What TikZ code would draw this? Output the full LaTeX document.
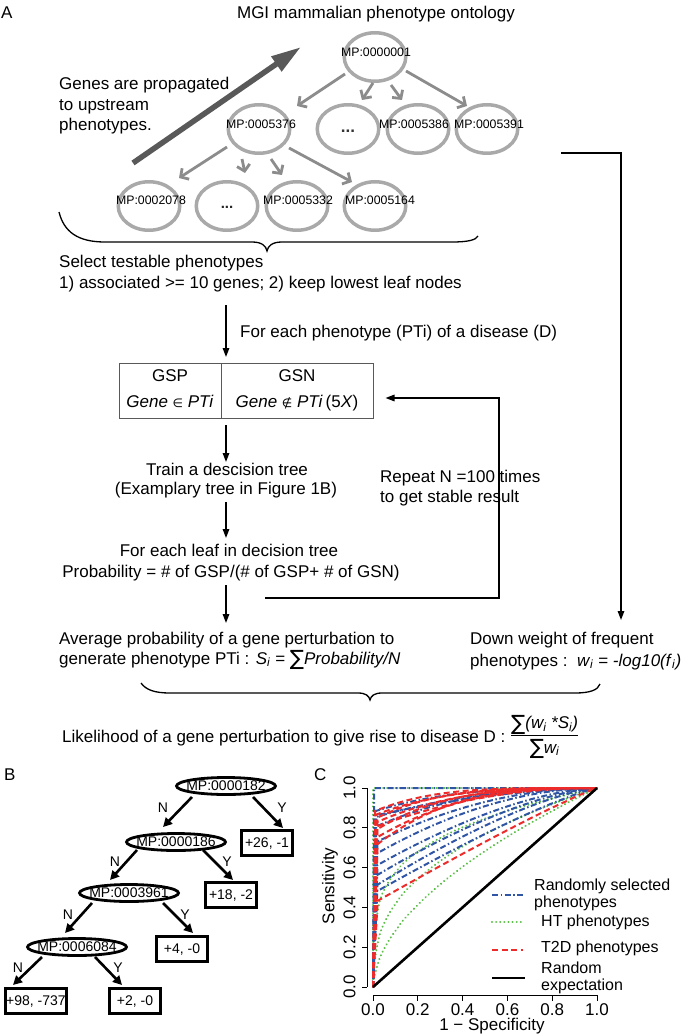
\documentclass[tikz,border=0pt]{standalone}
\usepackage{fontspec}
\setmainfont{Liberation Sans}
\newfontfamily\dejavu{DejaVu Sans}
\usetikzlibrary{arrows.meta,shapes.geometric,calc}
\definecolor{ongray}{HTML}{A9A9A9}
\definecolor{arrgray}{HTML}{8C8C8C}
\definecolor{bigarr}{HTML}{595959}
\definecolor{rocblue}{HTML}{2F55A4}
\definecolor{rocred}{HTML}{EE2B2B}
\definecolor{rocgreen}{HTML}{5CBF4A}
\newcommand{\fsz}[1]{\fontsize{#1}{#1}\selectfont}
\newcommand{\mysub}[1]{\textsubscript{#1}}
\newcommand{\sumsym}{{\fontsize{21}{21}\selectfont\dejavu\raisebox{-1.5pt}{∑}}}
\begin{document}
\begin{tikzpicture}[x=1pt,y=-1pt,
  txt/.style={font=\fsz{17}, inner sep=0pt, text height=12pt, text depth=3.5pt},
  ltxt/.style={txt, anchor=west},
  lgtxt/.style={font=\fsz{16}, inner sep=0pt, text height=11pt, text depth=2.5pt, anchor=west},
  lbl/.style={font=\fsz{12.3}, inner sep=0pt},
  onto/.style={ellipse, draw=ongray, line width=3.5pt, minimum width=61.5pt, minimum height=48.5pt, inner sep=0pt},
  garr/.style={draw=arrgray, line width=2.8pt, -{Straight Barb[length=6pt,width=13pt]}},
  bigarrow/.style={draw=bigarr, line width=5.5pt, -{Triangle[length=30pt,width=17pt]}},
  flow/.style={line width=1.4pt, -{Triangle[length=9pt,width=6.5pt]}},
  cell/.style={draw=black!65, line width=1pt, minimum height=55pt, inner sep=0pt},
  tnode/.style={ellipse, draw, line width=2.8pt, minimum width=99pt, minimum height=17pt, inner sep=0pt},
  tlbl/.style={font=\fsz{14}, inner sep=0pt},
  leaf/.style={draw, line width=2.8pt, minimum width=51pt, minimum height=25pt, inner xsep=1pt, inner ysep=0pt, font=\fsz{14}},
  tarr/.style={line width=2.6pt, -{Triangle[length=9pt,width=9pt]}},
  brace/.style={line width=1.3pt},
  bline/.style={draw=rocblue, line width=2pt, dash pattern=on 6pt off 2.5pt on 1.5pt off 2.5pt},
  rline/.style={draw=rocred, line width=2pt, dash pattern=on 6pt off 3.5pt},
  gline/.style={draw=rocgreen, line width=2.2pt, dash pattern=on 0.1pt off 4pt, line cap=round},
  kline/.style={draw=black, line width=2.6pt}
]
\useasboundingbox (0,0) rectangle (685,1035);

% ---------------- Panel A ----------------
\node[ltxt] (lA) at (1,14) {A};
\node[txt] (title) at (376,14) {MGI mammalian phenotype ontology};
\node[ltxt] (g1) at (59,85) {Genes are propagated};
\node[ltxt] (g2) at (59,106) {to upstream};
\node[ltxt] (g3) at (59,126) {phenotypes.};

\coordinate (bigs) at (133,163);
\coordinate (bige) at (301,47);
\draw[bigarrow] (bigs) -- (bige);

% ontology ellipses
\node[onto] (e1) at (375,57) {};
\node[onto] (e2) at (259,129) {};
\node[onto] (e3) at (348,129) {};
\node[onto] (e4) at (418,129) {};
\node[onto] (e5) at (487,129) {};
\node[onto] (e6) at (149,206) {};
\node[onto] (e7) at (227,206) {};
\node[onto] (e8) at (297,206) {};
\node[onto] (e9) at (375,206) {};

\node[lbl] (l1) at (376,52) {MP:0000001};
\node[lbl] (l2) at (261,124) {MP:0005376};
\node[font=\fsz{17}\bfseries, text=black!80, inner sep=0pt] (d1) at (348,131) {...};
\node[lbl] (l3) at (414,124) {MP:0005386};
\node[lbl] (l4) at (489,124) {MP:0005391};
\node[lbl] (l5) at (151,200) {MP:0002078};
\node[font=\fsz{15}\bfseries, text=black!85, inner sep=0pt] (d2) at (227,207) {...};
\node[lbl] (l6) at (298,200) {MP:0005332};
\node[lbl] (l7) at (380,200) {MP:0005164};

\draw[garr] ($(e1)+(-30,17)$) -- ($(e2)+(38,-23)$);
\draw[garr] ($(e1)+(-2,26)$) -- ($(e3)+(14,-29)$);
\draw[garr] ($(e1)+(16,28)$) -- ($(e4)+(-16,-29)$);
\draw[garr] ($(e1)+(31,14)$) -- ($(e5)+(-20,-23)$);
\draw[garr] ($(e2)+(-32,18)$) -- ($(e6)+(30,-28)$);
\draw[garr] ($(e2)+(-17,30)$) -- ($(e7)+(18,-33)$);
\draw[garr] ($(e2)+(12,30)$) -- ($(e8)+(-15,-31)$);
\draw[garr] ($(e2)+(30,19)$) -- ($(e9)+(-23,-24)$);

% brace under ontology
\draw[brace] (59,212) .. controls (64,232) and (78,242) .. (105,242) -- (252,242)
  .. controls (262,242) and (266,246) .. (267,251)
  .. controls (268,246) and (272,242) .. (282,242) -- (452,242)
  .. controls (468,242) and (476,240) .. (478,236);

\node[ltxt] (sel1) at (59,263) {Select testable phenotypes};
\node[ltxt] (sel2) at (59,284) {1) associated >= 10 genes; 2) keep lowest leaf nodes};

\coordinate (f1s) at (226,305);
\coordinate (f1e) at (226,357);
\draw[flow] (f1s) -- (f1e);
\node[ltxt] (each) at (240,333) {For each phenotype (PTi) of a disease (D)};

% table
\node[cell, minimum width=102pt] (gsp) at (170,390.5) {};
\node[cell, minimum width=152pt] (gsn) at (297,390.5) {};
\node[txt] (gspT) at (170,377) {GSP};
\node[txt] (gsnT) at (297,377) {GSN};
\node[txt] (gspF) at (170,403) {\textit{Gene} {\dejavu\fsz{12}∈} \textit{PTi}};
\node[txt] (gsnF) at (297,403) {\textit{Gene} {\dejavu\fsz{12}∉} \textit{PTi}\,(5\textit{X})};

\coordinate (f2s) at (226,425);
\coordinate (f2e) at (226,462);
\draw[flow] (f2s) -- (f2e);
\node[txt] (train1) at (227,471) {Train a descision tree};
\node[txt] (train2) at (226,490) {(Examplary tree in Figure 1B)};
\coordinate (f3s) at (226,502);
\coordinate (f3e) at (226,538);
\draw[flow] (f3s) -- (f3e);
\node[txt] (leaf1) at (229,552) {For each leaf in decision tree};
\node[txt] (leaf2) at (231,573) {Probability = \# of GSP/(\# of GSP+ \# of GSN)};
\coordinate (f4s) at (226,585);
\coordinate (f4e) at (226,623);
\draw[flow] (f4s) -- (f4e);

% repeat loop
\node[ltxt] (rep1) at (380,478) {Repeat N =100 times};
\node[ltxt] (rep2) at (380,498) {to get stable result};
\coordinate (fb0) at (265,598);
\coordinate (fb1) at (499,398);
\draw[flow] (fb0) -- (fb0 -| fb1) -- (fb1) -- ($(gsn.east)+(12,7.5)$);

% right connector
\coordinate (rc0) at (561,153);
\coordinate (rc2) at (621,620);
\draw[flow] (rc0) -| (rc2);

% bottom of A
\node[ltxt] (av1) at (59,640) {Average probability of a gene perturbation to};
\node[ltxt] (av2) at (59,660) {generate phenotype PTi : \textit{S}\mysub{\textit{i}} = \sumsym\textit{Probability/N}};
\node[ltxt] (dw1) at (470,640) {Down weight of frequent};
\node[ltxt] (dw2) at (470,662) {phenotypes :\ \ \textit{w}\mysub{\textit{i}} = \textit{-log10(f}\mysub{\textit{i}}\textit{)}};

\draw[brace] (141,683) .. controls (146,690) and (155,693) .. (170,693) -- (358,693)
  .. controls (366,693) and (369,696) .. (370,700)
  .. controls (371,696) and (374,693) .. (382,693) -- (575,693)
  .. controls (590,693) and (598,690) .. (600,684);

\node[ltxt] (lik) at (62,738) {Likelihood of a gene perturbation to give rise to disease D :};
\node[anchor=west, font=\fsz{17}, inner sep=0pt] (frac) at (511,737) {\setlength{\arrayrulewidth}{1.2pt}\begin{tabular}{@{}c@{}}\sumsym\textit{(w\mysub{i} *S\mysub{i})}\\[1pt]\hline\rule{0pt}{17pt}\sumsym\textit{w\mysub{i}}\end{tabular}};

% ---------------- Panel B ----------------
\node[ltxt] (lB) at (4,776) {B};
\node[tnode] (n1) at (226,786) {};
\node[tnode] (n2) at (176,842) {};
\node[tnode] (n3) at (129,893) {};
\node[tnode] (n4) at (77,947) {};
\node[tlbl] (n1l) at (n1) {MP:0000182};
\node[tlbl] (n2l) at (n2) {MP:0000186};
\node[tlbl] (n3l) at (n3) {MP:0003961};
\node[tlbl] (n4l) at (n4) {MP:0006084};
\node[leaf] (b1) at (267,843) {+26, -1};
\node[leaf] (b2) at (231,895) {+18, -2};
\node[leaf] (b3) at (182,949) {+4, -0};
\node[leaf] (b4) at (36,1001) {+98, -737};
\node[leaf] (b5) at (135,1001) {+2, -0};

\draw[tarr] ($(n1)+(-34,11)$) -- ($(n2)+(-13,-15)$);
\draw[tarr] ($(n1)+(27,11)$) -- ($(b1)+(16,-15)$);
\draw[tarr] ($(n2)+(-39,8)$) -- ($(n3)+(-19,-13)$);
\draw[tarr] ($(n2)+(27,8)$) -- ($(b2)+(2,-15)$);
\draw[tarr] ($(n3)+(-37,10)$) -- ($(n4)+(-12,-14)$);
\draw[tarr] ($(n3)+(34,10)$) -- ($(b3)+(11,-16)$);
\draw[tarr] ($(n4)+(-35,10)$) -- ($(b4)+(-23,-16)$);
\draw[tarr] ($(n4)+(18,10)$) -- ($(b5)+(-13,-16)$);

\node[tlbl] (yn1) at (163,808) {N};
\node[tlbl] (yn2) at (282,808) {Y};
\node[tlbl] (yn3) at (115,862) {N};
\node[tlbl] (yn4) at (227,862) {Y};
\node[tlbl] (yn5) at (68,915) {N};
\node[tlbl] (yn6) at (185,915) {Y};
\node[tlbl] (yn7) at (18,968) {N};
\node[tlbl] (yn8) at (118,968) {Y};

% ---------------- Panel C ----------------
\node[ltxt] (lC) at (314,776) {C};
\node[txt, rotate=90] (sens) at (330,886) {Sensitivity};
\node[txt] (spec) at (492,1026) {1 − Specificity};

\draw[line width=1pt] (367,788) -- (367,987);
\foreach \v [count=\i from 0] in {0.0,0.2,0.4,0.6,0.8,1.0} {
  \draw[line width=1pt] (362,{987-\i*39.8}) -- (367,{987-\i*39.8});
  \node[txt, rotate=90] (yt\i) at (351,{987-\i*39.8}) {\v};
}
\draw[line width=1pt] (373,995) -- (597,995);
\foreach \v [count=\i from 0] in {0.0,0.2,0.4,0.6,0.8,1.0} {
  \draw[line width=1pt] ({373+\i*44.8},995) -- ({373+\i*44.8},1001);
  \node[txt] (xt\i) at ({373+\i*44.8},1011) {\v};
}

\begin{scope}[shift={(373,987)},x=224pt,y=199pt]
  % green dotted
  \draw[gline] (0,0) -- (0,1) -- (1,1);
  \foreach \a in {0.55,0.38,0.24} {
    \draw[gline] (0,0) -- plot[domain=0.003:1,samples=40,smooth] (\x,{\x^\a});
  }
  % blue dash-dot
  \draw[bline] (0,0) -- (0.005,1) -- (1,1);
  \foreach \yz/\b/\dx in {0.88/3/0.008,0.86/1.7/0.012,0.85/2.2/0.015,0.80/2.5/0.01,0.72/2.0/0.02,0.66/1.9/0.015,0.60/1.6/0.02,0.55/1.5/0.01,0.50/1.4/0.02,0.47/1.2/0.012} {
    \draw[bline] (0,0) -- (\dx,\yz) -- plot[domain=\dx:0.99,samples=30,smooth] (\x,{1-(1-\yz)*(1-\x)^\b}) -- (1,1);
  }
  % red dashed
  \foreach \yz/\b/\dx in {0.88/4/0.01,0.86/3.2/0.015,0.84/3.6/0.02,0.82/2.8/0.012,0.80/2.1/0.02,0.78/3.2/0.01,0.74/2.6/0.015,0.70/3.0/0.02,0.42/1.1/0.02} {
    \draw[rline] (0,0) -- (\dx,\yz) -- plot[domain=\dx:0.99,samples=30,smooth] (\x,{1-(1-\yz)*(1-\x)^\b}) -- (1,1);
  }
  % random expectation
  \draw[kline] (0,0) -- (1,1);
\end{scope}

% legend
\coordinate (lg1a) at (492,895); \coordinate (lg1b) at (523,895);
\draw[bline] (lg1a) -- (lg1b);
\node[lgtxt] (lgt1) at (534,886) {Randomly selected};
\node[lgtxt] (lgt1b) at (534,903) {phenotypes};
\coordinate (lg2a) at (492,922); \coordinate (lg2b) at (523,922);
\draw[gline] (lg2a) -- (lg2b);
\node[lgtxt] (lgt2) at (541,922) {HT phenotypes};
\coordinate (lg3a) at (492,950); \coordinate (lg3b) at (523,950);
\draw[rline] (lg3a) -- (lg3b);
\node[lgtxt] (lgt3) at (541,948) {T2D phenotypes};
\coordinate (lg4a) at (492,978); \coordinate (lg4b) at (525,978);
\draw[kline] (lg4a) -- (lg4b);
\node[lgtxt] (lgt4) at (541,969) {Random};
\node[lgtxt] (lgt4b) at (541,986) {expectation};
\end{tikzpicture}
\end{document}
